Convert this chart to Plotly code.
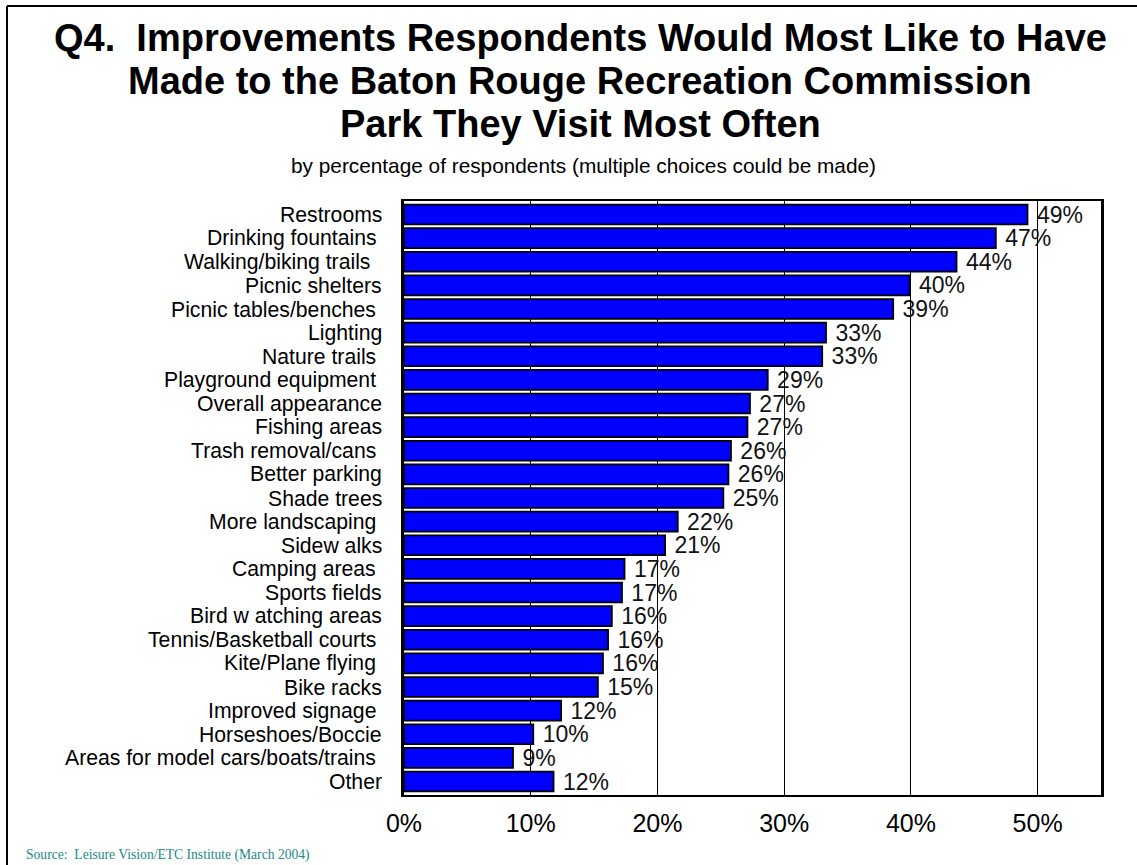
import plotly.graph_objects as go

# Survey results, ordered top to bottom as displayed
categories = [
    "Restrooms", "Drinking fountains\u00a0", "Walking/biking trails\u00a0\u00a0", "Picnic shelters",
    "Picnic tables/benches\u00a0", "Lighting", "Nature trails\u00a0", "Playground equipment\u00a0",
    "Overall appearance", "Fishing areas", "Trash removal/cans\u00a0", "Better parking",
    "Shade trees", "More landscaping\u00a0", "Sidew alks", "Camping areas\u00a0", "Sports fields",
    "Bird w atching areas", "Tennis/Basketball courts\u00a0", "Kite/Plane flying\u00a0",
    "Bike racks", "Improved signage\u00a0", "Horseshoes/Boccie", "Areas for model cars/boats/trains\u00a0",
    "Other",
]
percentages = [
    49.2, 46.7, 43.6, 39.9, 38.6, 33.3, 33.0, 28.7, 27.3, 27.1, 25.8, 25.6, 25.2,
    21.6, 20.6, 17.4, 17.2, 16.4, 16.1, 15.7, 15.3, 12.4, 10.2, 8.6, 11.8,
]
tick_values = [0, 10, 20, 30, 40, 50]
tick_labels = ["0%", "10%", "20%", "30%", "40%", "50%"]

title_lines = [
    "Q4.  Improvements Respondents Would Most Like to Have",
    "Made to the Baton Rouge Recreation Commission",
    "Park They Visit Most Often",
]
subtitle = "by percentage of respondents (multiple choices could be made)"
source = "Source:  Leisure Vision/ETC Institute (March 2004)"

W, H = 1137, 865
L, R, T, B = 404, 36, 201, 70
PW, PH = W - L - R, H - T - B


def px_x(x):
    return (x - L) / PW


def px_y(y):
    return (H - B - y) / PH


fig = go.Figure()
fig.add_trace(go.Bar(
    y=categories,
    x=percentages,
    orientation="h",
    marker=dict(color="#0000FF", line=dict(color="black", width=1.8)),
    texttemplate=" %{x:.0f}%",
    textposition="outside",
    constraintext="none",
    textangle=0,
    textfont=dict(family="Arial, Liberation Sans", size=23, color="#111111"),
    cliponaxis=False,
    width=0.84,
))

annotations = []
# Category names placed against each bar's row on the y axis
for cat in categories:
    annotations.append(dict(
        text=cat, x=0, xref="paper", y=cat, yref="y", xanchor="right", yanchor="middle",
        xshift=-20, yshift=0, showarrow=False,
        font=dict(family="Arial, Liberation Sans", size=21.2, color="black"),
    ))
for i, line in enumerate(title_lines):
    annotations.append(dict(
        text=f"<b>{line}</b>", x=px_x(580), y=px_y(38 + i * 43), xref="paper", yref="paper",
        xanchor="center", yanchor="middle", showarrow=False,
        font=dict(family="Arial, Liberation Sans", size=38, color="black"),
    ))
annotations.append(dict(
    text=subtitle, x=px_x(583), y=px_y(165), xref="paper", yref="paper",
    xanchor="center", yanchor="middle", showarrow=False,
    font=dict(family="Arial, Liberation Sans", size=20.8, color="black"),
))
annotations.append(dict(
    text=source, x=px_x(24), y=px_y(855), xref="paper", yref="paper",
    xanchor="left", yanchor="middle", showarrow=False,
    font=dict(family="Times New Roman, Liberation Serif", size=13.6, color="#1a8a88"),
))

shapes = [
    dict(type="line", xref="paper", yref="paper", x0=px_x(7), x1=px_x(W), y0=px_y(6), y1=px_y(6),
         line=dict(color="black", width=2)),
    dict(type="line", xref="paper", yref="paper", x0=px_x(7), x1=px_x(7), y0=px_y(6), y1=px_y(H),
         line=dict(color="black", width=2)),
]

fig.update_layout(
    width=W, height=H,
    margin=dict(l=L, r=R, t=T, b=B),
    paper_bgcolor="white", plot_bgcolor="white",
    showlegend=False,
    bargap=0.16,
    annotations=annotations,
    shapes=shapes,
    xaxis=dict(
        range=[0, 55], tickvals=tick_values, ticktext=tick_labels,
        showgrid=True, gridcolor="black", gridwidth=1,
        showline=True, linecolor="black", linewidth=2, mirror=True,
        ticks="", ticklabelstandoff=5, zeroline=False,
        tickfont=dict(family="Arial, Liberation Sans", size=25, color="black"),
    ),
    yaxis=dict(
        autorange="reversed", categoryorder="array", categoryarray=categories,
        showline=True, linecolor="black", linewidth=2.5, mirror=True,
        ticks="", showticklabels=False,
    ),
)

fig.write_html("out.html")
